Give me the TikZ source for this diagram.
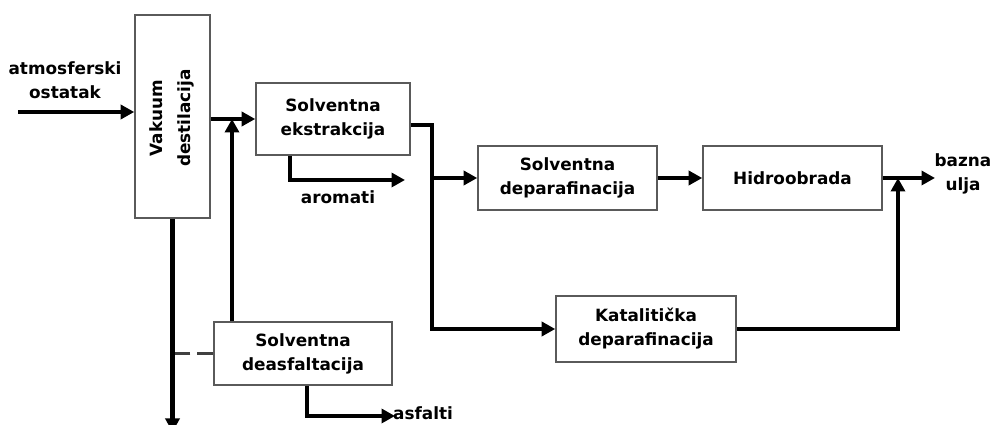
\documentclass[tikz,border=0pt]{standalone}
\usepackage{fontspec}
\setmainfont{DejaVu Sans}
\usetikzlibrary{arrows.meta, positioning}
\definecolor{boxgray}{HTML}{5A5A5A}
\tikzset{
  box/.style={draw=boxgray, line width=0.9pt, fill=white, align=center, inner sep=2pt},
  flow/.style={-{Triangle[length=0.27cm, width=0.28cm]}, line width=2.3pt},
  spare/.style={line width=1.4pt, black!75, dash pattern=on 9pt off 4pt},
  lbl/.style={align=center, inner sep=0pt},
}

\begin{document}
\begin{tikzpicture}[x=0.02cm, y=-0.02cm,
    every node/.style={font=\bfseries\fontsize{9.6}{13.6}\selectfont}]
  \useasboundingbox (0,0) rectangle (992,425);
  % process units
  \node[box, minimum width=1.5cm, minimum height=4.06cm] (vak) at (172.5,116.5) {};
  \node[lbl, rotate=90, font=\bfseries\fontsize{9.6}{16}\selectfont] (vaktxt) at (172,118) {Vakuum\\destilacija};
  \node[box, minimum width=3.08cm, minimum height=1.44cm] (ekst) at (333,119) {Solventna\\ekstrakcija};
  \node[box, minimum width=3.58cm, minimum height=1.28cm] (dpar) at (567.5,178) {Solventna\\deparafinacija};
  \node[box, minimum width=3.58cm, minimum height=1.28cm] (hidro) at (792.5,178) {Hidroobrada};
  \node[box, minimum width=3.6cm, minimum height=1.32cm] (kat) at (646,329) {Katalitička\\deparafinacija};
  \node[box, minimum width=3.56cm, minimum height=1.26cm] (deas) at (303,353.5) {Solventna\\deasfaltacija};
  % stream names
  \node[lbl] (atm) at (65,80) {atmosferski\\ostatak};
  \node[lbl] (arom) at (338,197) {aromati};
  \node[lbl] (asf) at (423,413) {asfalti};
  \node[lbl] (baz) at (963,174) {bazna\\ulja};
  % free ends
  \coordinate (feed) at (18,112);
  \coordinate (out) at (935,178);
  % streams
  \draw[flow] (feed) -- (feed -| vak.west);
  \draw[flow] (vak.east |- ekst.west) -- (ekst.west);
  \draw[flow] (deas.north -| 232,0) -- (232,119);
  \draw[flow] (ekst.south -| 290,0) |- (405,180);
  \draw[flow] (ekst.east |- 0,125) -- (432,125) |- (kat.west);
  \draw[flow] (432,178) -- (dpar.west);
  \draw[flow] (dpar) -- (hidro);
  \draw[flow] (hidro.east) -- (out);
  \draw[flow] (kat.east) -| (898,178);
  \draw[flow] (vak.south) -- (vak.south |- 0,432);
  \draw[spare] (deas.west) -- (deas.west -| vak.south);
  \draw[flow] (deas.south -| 307,0) |- (395,416);
\end{tikzpicture}
\end{document}
